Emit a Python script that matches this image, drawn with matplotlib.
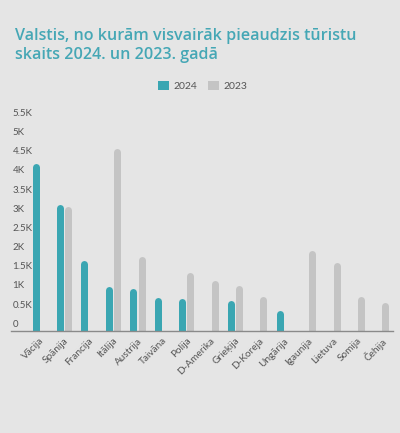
import numpy as np
import matplotlib
matplotlib.use("Agg")
import matplotlib.pyplot as plt
from matplotlib.patches import Patch

countries = ["Vācija", "Spānija", "Francija", "Itālija", "Austrija", "Taivāna", "Polija",
             "D-Amerika", "Grieķija", "D-Koreja", "Ungārija", "Igaunija", "Lietuva", "Somija", "Čehija"]
v2024 = [4.17, 3.09, 1.63, 0.95, 0.91, 0.67, 0.65, np.nan, 0.59, np.nan, 0.34, np.nan, np.nan, np.nan, np.nan]
v2023 = [np.nan, 3.04, np.nan, 4.56, 1.73, np.nan, 1.32, 1.11, 0.99, 0.70, np.nan, 1.89, 1.59, 0.70, 0.55]
yticks = [0, 0.5, 1, 1.5, 2, 2.5, 3, 3.5, 4, 4.5, 5, 5.5]
ylabels = ["0", "0.5K", "1K", "1.5K", "2K", "2.5K", "3K", "3.5K", "4K", "4.5K", "5K", "5.5K"]

BG = "#e5e5e5"
TEAL = "#3aa6b2"
GRAY = "#c4c4c4"
TXT = "#555555"

narrow = ["Lato", "DejaVu Sans"]

fig = plt.figure(figsize=(4.0, 4.33), dpi=100, facecolor=BG)
ax = fig.add_axes([0.0275, 0.2363, 0.955, 0.5327], facecolor=BG)

ymin, ymax = -0.193, 5.82
ax.set_ylim(ymin, ymax)
ax.set_xlim(-1.18, 14.48)

x = np.arange(len(countries))
off = 0.17
bar_px = 7.0
lw = bar_px * 72 / fig.dpi
px_per_unit = (ax.get_position().height * fig.get_figheight() * fig.dpi) / (ymax - ymin)
r = (bar_px / 2) / px_per_unit

for vals, dx, col in [(v2024, -off, TEAL), (v2023, off, GRAY)]:
    for xi, v in zip(x, vals):
        if np.isnan(v):
            continue
        ax.vlines(xi + dx, ymin - 1, v - r, colors=col, linewidth=lw, capstyle="round", zorder=2)

for s in ["top", "right", "left"]:
    ax.spines[s].set_visible(False)
ax.spines["bottom"].set_color("#8a8a8a")
ax.spines["bottom"].set_linewidth(1.0)
ax.spines["bottom"].set_zorder(3)

ax.set_yticks(yticks)
ax.set_yticklabels(ylabels, family=narrow, fontsize=7, color=TXT)
for lab in ax.get_yticklabels():
    lab.set_horizontalalignment("left")
ax.tick_params(axis="y", length=0, pad=-1)

ax.set_xticks(x)
ax.set_xticklabels(countries, family=narrow, fontsize=7.2, color=TXT, rotation=45,
                   ha="right", rotation_mode="anchor")
ax.tick_params(axis="x", length=0, pad=4)

fig.text(0.0375, 0.935, "Valstis, no kurām visvairāk pieaudzis tūristu\nskaits 2024. un 2023. gadā",
         family=["Open Sans", "DejaVu Sans"], fontweight="semibold", fontsize=11.6,
         color="#45a7b5", ha="left", va="top", linespacing=1.25)

handles = [Patch(facecolor=TEAL, label="2024"), Patch(facecolor=GRAY, label="2023")]
fig.legend(handles=handles, loc="center", bbox_to_anchor=(0.5075, 0.801), ncol=2, frameon=False,
           handlelength=1.0, handleheight=1.0, handletextpad=0.5, columnspacing=1.0,
           prop={"family": narrow, "size": 7.5}, labelcolor=TXT)

fig.savefig("out.png", dpi=100, facecolor=BG)
